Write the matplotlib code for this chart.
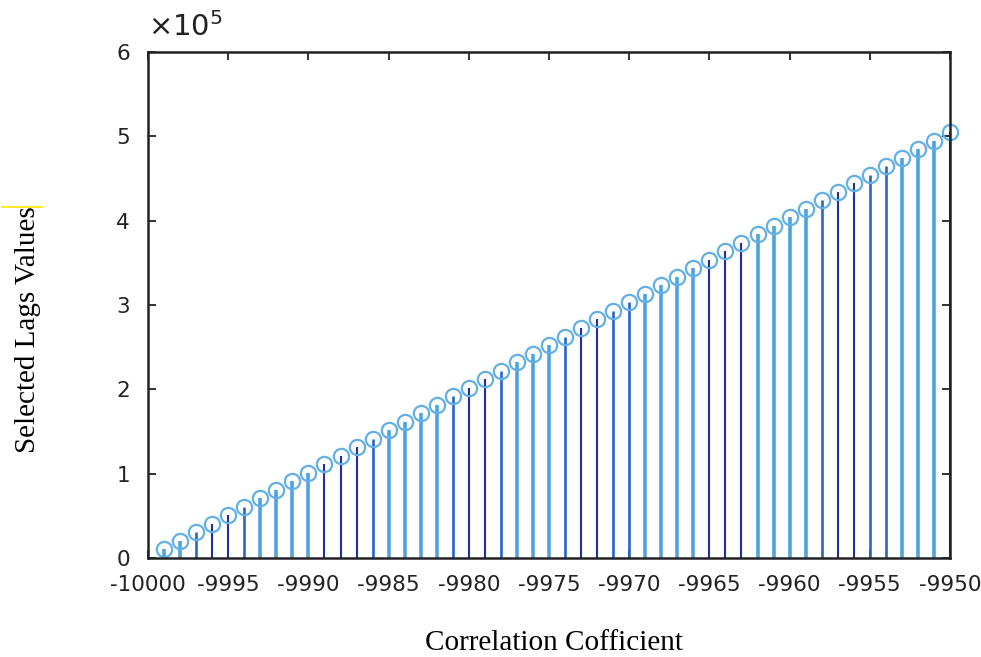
import numpy as np
import matplotlib
matplotlib.use("Agg")
import matplotlib.pyplot as plt
from matplotlib.lines import Line2D

# lags (x) and selected lag values (y)
lags = [-9999, -9998, -9997, -9996, -9995, -9994, -9993, -9992, -9991, -9990,
        -9989, -9988, -9987, -9986, -9985, -9984, -9983, -9982, -9981, -9980,
        -9979, -9978, -9977, -9976, -9975, -9974, -9973, -9972, -9971, -9970,
        -9969, -9968, -9967, -9966, -9965, -9964, -9963, -9962, -9961, -9960,
        -9959, -9958, -9957, -9956, -9955, -9954, -9953, -9952, -9951, -9950]
values = [10100, 20200, 30300, 40400, 50500, 60600, 70700, 80800, 90900, 101000,
          111100, 121200, 131300, 141400, 151500, 161600, 171700, 181800, 191900, 202000,
          212100, 222200, 232300, 242400, 252500, 262600, 272700, 282800, 292900, 303000,
          313100, 323200, 333300, 343400, 353500, 363600, 373700, 383800, 393900, 404000,
          414100, 424200, 434300, 444400, 454500, 464600, 474700, 484800, 494900, 505000]

xticks = [-10000, -9995, -9990, -9985, -9980, -9975, -9970, -9965, -9960, -9955, -9950]
yticks = [0, 100000, 200000, 300000, 400000, 500000, 600000]
ytick_labels = ["0", "1", "2", "3", "4", "5", "6"]

# stem shade as it shows in the picture (L light, M medium, D dark)
shades = "LLMDDMLLLLDDDMLLLLMDDMLLLMDDMMLLLLDDDLLLLMDDMMLLLD"
shade_color = {"L": "#4ea3dc", "M": "#2a66c6", "D": "#1d2ea6"}
shade_width = {"L": 2.6, "M": 1.9, "D": 1.5}

fig = plt.figure(figsize=(9.81, 6.57), dpi=100)
ax = fig.add_axes([0.1509, 0.1507, 0.8175, 0.7702])

markerline, stemlines, baseline = ax.stem(lags, values, basefmt=" ")
stemlines.set_colors([shade_color[s] for s in shades])
stemlines.set_linewidths([shade_width[s] for s in shades])
markerline.set_marker("o")
markerline.set_markersize(11)
markerline.set_markerfacecolor("none")
markerline.set_markeredgecolor("#62b0e6")
markerline.set_markeredgewidth(1.6)
markerline.set_clip_on(False)

ax.set_xlim(-10000, -9950)
ax.set_ylim(0, 600000)
ax.set_xticks(xticks)
ax.set_xticklabels([str(t) for t in xticks])
ax.set_yticks(yticks)
ax.set_yticklabels(ytick_labels)

ax.tick_params(direction="in", length=6, width=1.3, top=True, right=True,
               labelsize=15.5, colors="#222222")
ax.tick_params(axis="x", pad=12)
ax.tick_params(axis="y", pad=13)
for sp in ax.spines.values():
    sp.set_linewidth(1.8)
    sp.set_color("#222222")

ax.text(0.0, 1.02, r"$\times10^5$", transform=ax.transAxes, fontsize=21,
        ha="left", va="bottom", color="#222222", family="DejaVu Sans")

fig.text(0.029, 0.498, "Selected Lags Values", rotation=90, ha="center", va="center",
         fontsize=21, family="Liberation Serif")
fig.text(0.565, 0.021, "Correlation Cofficient", ha="center", va="center",
         fontsize=21, family="Liberation Serif")

fig.add_artist(Line2D([0.002, 0.043], [0.685, 0.685], color="#ffe600", linewidth=1.2,
                      transform=fig.transFigure))

fig.savefig("out.png", dpi=100)
